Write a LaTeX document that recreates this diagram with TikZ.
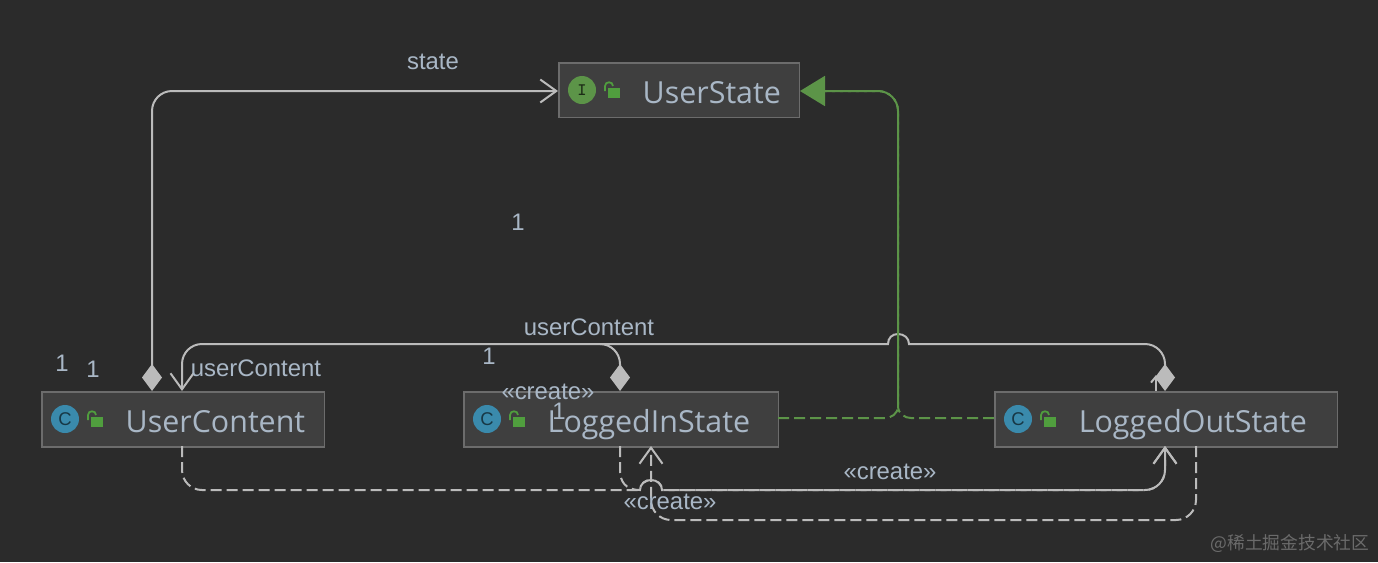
\documentclass[tikz,border=0pt]{standalone}
\usepackage{fontspec}
\setmainfont{Liberation Sans}
\newfontfamily\classfont{Open Sans}
\newfontfamily\cjkfont{Noto Sans CJK SC}
\usetikzlibrary{positioning,arrows.meta}
\definecolor{bgdark}{RGB}{43,43,43}
\definecolor{boxfill}{RGB}{63,63,63}
\definecolor{boxline}{RGB}{108,108,108}
\definecolor{linegray}{RGB}{187,187,187}
\definecolor{textblue}{RGB}{169,183,198}
\definecolor{implgreen}{RGB}{92,148,72}
\definecolor{lockgreen}{RGB}{80,158,62}
\definecolor{classblue}{RGB}{58,138,172}

\begin{document}
\begin{tikzpicture}[
    x=0.02cm,
    y=-0.02cm,
    classbox/.style={draw=boxline, fill=boxfill, line width=0.03cm, anchor=north west, text width=#1, inner xsep=0pt, inner ysep=0pt, minimum height=1.1cm, text height=0.58cm, text depth=0.06cm, align=left, font=\classfont\fontsize{17.3}{18}\selectfont, text=textblue, execute at begin node={\hspace*{1.68cm}}},
    icon/.style={circle, fill=#1, minimum size=0.56cm, inner sep=0pt},
    lbl/.style={font=\fontsize{13.6}{15}\selectfont, text=textblue, inner sep=0pt},
    lockicon/.pic={
        \fill[lockgreen] (4,-2) rectangle (16,8);
        \draw[lockgreen, line width=0.035cm] (1,1) -- (1,-4) .. controls (1,-9) and (9,-9) .. (9,-4);
    },
    solidline/.style={draw=linegray, line width=0.04cm},
    dashline/.style={solidline, dash pattern=on 0.22cm off 0.1cm},
    implline/.style={draw=implgreen, line width=0.04cm, dash pattern=on 0.22cm off 0.1cm},
    comp/.style={solidline, rounded corners=0.4cm, {Diamond[length=0.54cm, width=0.4cm, fill=linegray]}-{Straight Barb[length=0.32cm, width=0.46cm]}},
    comphead/.style={solidline, {Diamond[length=0.54cm, width=0.4cm, fill=linegray]}-},
    dep/.style={dashline, -{Straight Barb[length=0.32cm, width=0.46cm]}}
]

% background
\fill[bgdark] (0,0) rectangle (1378,562);

% ========== CLASSES ==========
\node[classbox=4.82cm] (userstate) at (558,62) {UserState};
\node[classbox=5.66cm] (usercontent) at (41,391) {UserContent};
\node[classbox=6.3cm] (loggedin) at (463,391) {LoggedInState};
\node[classbox=6.86cm] (loggedout) at (994,391) {LoggedOutState};

% icons
\node[icon=implgreen, text=black!70!implgreen, font=\ttfamily\bfseries\fontsize{10}{10}\selectfont] (userstateicon) at (582,90) {I};
\node[icon=classblue, text=black!60!classblue, font=\fontsize{10.5}{10}\selectfont] (usercontenticon) at (65,419) {C};
\node[icon=classblue, text=black!60!classblue, font=\fontsize{10.5}{10}\selectfont] (loggedinicon) at (487,419) {C};
\node[icon=classblue, text=black!60!classblue, font=\fontsize{10.5}{10}\selectfont] (loggedouticon) at (1018,419) {C};
\pic at (604,90) {lockicon};
\pic at (87,419) {lockicon};
\pic at (509,419) {lockicon};
\pic at (1040,419) {lockicon};

% ports on the boxes
\coordinate (ucstate) at (152,391);
\coordinate (ucin) at (182,391);
\coordinate (ucout) at (182,446);
\coordinate (liup) at (620,391);
\coordinate (liin) at (651,446);
\coordinate (liout) at (620,446);
\coordinate (loup) at (1165,391);
\coordinate (loarrow) at (1156,391);
\coordinate (loin) at (1165,446);
\coordinate (loout) at (1196,446);
\coordinate (usin) at (558,91);
\coordinate (usimpl) at (800,91);
\coordinate (limpl) at (778,418);
\coordinate (loimpl) at (994,418);

% ========== ASSOCIATIONS ==========
\draw[comp] (ucstate) -- (152,91) -- (usin);
\draw[comp] (liup) -- (620,344) -- (182,344) -- (ucin);
\draw[comphead] (loup) -- (1165,364) .. controls (1165,353) and (1156,344) .. (1145,344) -- (909,344) .. controls (909,338) and (904,334) .. (898,334) .. controls (892,334) and (888,338) .. (888,344) -- (600,344);
\draw[solidline, -{Straight Barb[length=0.12cm, width=0.2cm]}] (loarrow) -- (1156,375);

% ========== CREATE DEPENDENCIES ==========
\draw[dep] (ucout) -- (182,470) .. controls (182,481) and (191,490) .. (202,490) -- (640,490) .. controls (640,484) and (645,480) .. (651,480) .. controls (657,480) and (662,484) .. (662,490) -- (1145,490) .. controls (1156,490) and (1165,481) .. (1165,470) -- (loin);
\draw[dep] (liout) -- (620,470) .. controls (620,481) and (625,490) .. (640,490) .. controls (640,484) and (645,480) .. (651,480) .. controls (657,480) and (662,484) .. (662,490) -- (1145,490) .. controls (1156,490) and (1165,481) .. (1165,470) -- (loin);
\draw[dep] (loout) -- (1196,500) .. controls (1196,511) and (1187,520) .. (1176,520) -- (671,520) .. controls (660,520) and (651,511) .. (651,500) -- (liin);

% ========== IMPLEMENTS ==========
\draw[implline] (limpl) -- (885,418) .. controls (891,418) and (898,414) .. (898,406) -- (898,111) .. controls (898,100) and (889,91) .. (878,91) -- (825,91);
\draw[implline] (loimpl) -- (911,418) .. controls (905,418) and (898,414) .. (898,406) -- (898,111) .. controls (898,100) and (889,91) .. (878,91) -- (825,91);
\draw[draw=implgreen, line width=0.04cm, -{Triangle[length=0.5cm, width=0.6cm, fill=implgreen]}] (830,91) -- (usimpl);

% ========== LABELS ==========
\node[lbl] (statelbl) at (433,62) {state};
\node[lbl] (usercontentlbla) at (589,327) {userContent};
\node[lbl] (usercontentlblb) at (256,368) {userContent};
\node[lbl] (onea) at (518,222) {1};
\node[lbl] (oneb) at (489,356) {1};
\node[lbl] (onec) at (62,363) {1};
\node[lbl] (oned) at (93,369) {1};
\node[lbl] (onee) at (559,411) {1};
\node[lbl] (createa) at (548,392) {«create»};
\node[lbl] (createb) at (890,472) {«create»};
\node[lbl] (createc) at (670,502) {«create»};

% watermark
\node[font=\cjkfont\fontsize{10.1}{12}\selectfont, text=white!30!bgdark, inner sep=0pt] (watermark) at (1290,543) {@稀土掘金技术社区};

\end{tikzpicture}
\end{document}
